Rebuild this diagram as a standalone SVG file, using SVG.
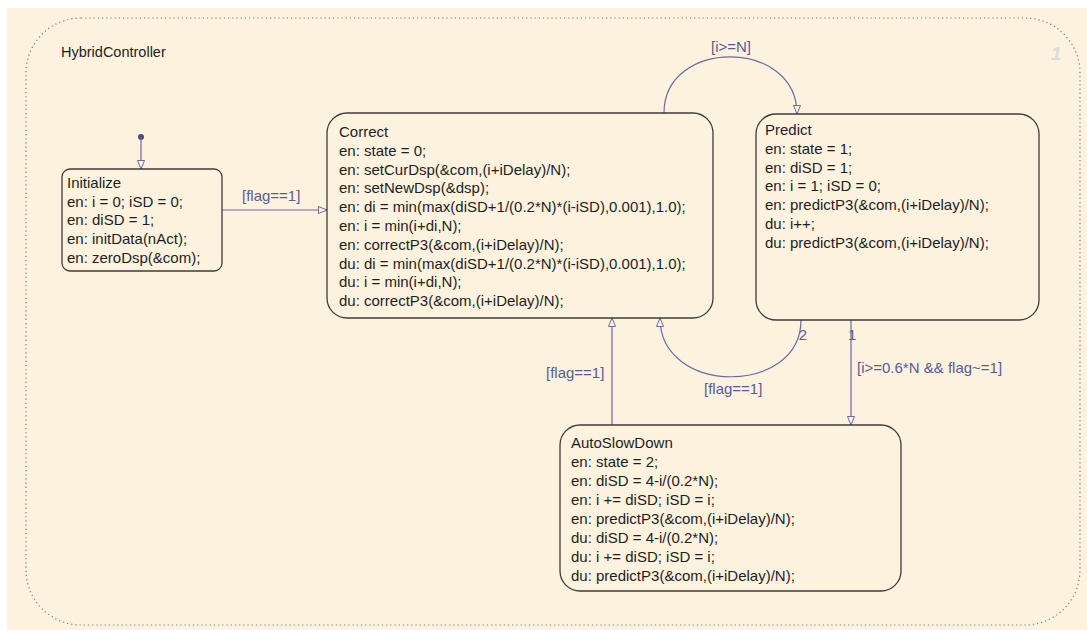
<svg xmlns="http://www.w3.org/2000/svg" width="1087" height="630" viewBox="0 0 1087 630">
<defs>
<style>
.st{fill:none;stroke:#3c3c3c;stroke-width:1.3}
.tx{font-family:"Liberation Sans",Arial,sans-serif;font-size:15px;fill:#1e1e1e}
.lb{font-family:"Liberation Sans",Arial,sans-serif;font-size:15px;fill:#5a5a96}
.tr{fill:none;stroke:#6a6aa4;stroke-width:1.2}
</style>
<marker id="ah" markerUnits="userSpaceOnUse" markerWidth="10" markerHeight="9" refX="9" refY="4" orient="auto">
<path d="M0.5,0.5 L9,4 L0.5,7.5 Z" fill="#fcf2de" stroke="#6a6aa4" stroke-width="1"/>
</marker>
</defs>
<rect x="0" y="0" width="1087" height="630" fill="#ffffff"/>
<rect x="7" y="8" width="1080" height="622" fill="#fcf2de"/>
<rect x="26" y="18" width="1054" height="607" rx="55" ry="55" fill="none" stroke="#7a7a7a" stroke-width="1.2" stroke-dasharray="1.2 3"/>
<text x="61" y="57" class="tx" style="font-size:14.5px">HybridController</text>
<text x="1051" y="60" style="font-family:'Liberation Sans',Arial,sans-serif;font-size:19px;font-style:italic;font-weight:bold;fill:#dcdcdc">1</text>

<g id="connectors">
<circle cx="141" cy="137" r="3" fill="#4a4a80"/>
<line x1="141" y1="137" x2="141" y2="169" class="tr" marker-end="url(#ah)"/>
<line x1="222" y1="210" x2="327" y2="210" class="tr" marker-end="url(#ah)"/>
<text x="242" y="201" class="lb">[flag==1]</text>
<path d="M664,113 C664,38 797,38 797,114" class="tr" marker-end="url(#ah)"/>
<text x="711" y="52" class="lb">[i&gt;=N]</text>
<path d="M801,320 C801,396 660,396 660,318" class="tr" marker-end="url(#ah)"/>
<text x="803" y="340" class="lb" text-anchor="middle">2</text>
<text x="704" y="394" class="lb">[flag==1]</text>
<line x1="851" y1="320" x2="851" y2="425" class="tr" marker-end="url(#ah)"/>
<text x="848" y="340" class="lb">1</text>
<text x="857" y="373" class="lb">[i&gt;=0.6*N &amp;&amp; flag~=1]</text>
<line x1="612" y1="425" x2="612" y2="318" class="tr" marker-end="url(#ah)"/>
<text x="546" y="378" class="lb">[flag==1]</text>
</g>

<g id="Initialize">
<rect x="62" y="169" width="160" height="102" rx="8" class="st"/>
<text class="tx" x="67" y="188">Initialize
<tspan x="67" dy="18.7">en: i = 0; iSD = 0;</tspan>
<tspan x="67" dy="18.7">en: diSD = 1;</tspan>
<tspan x="67" dy="18.7">en: initData(nAct);</tspan>
<tspan x="67" dy="18.7">en: zeroDsp(&amp;com);</tspan>
</text>
</g>

<g id="Correct">
<rect x="327" y="113" width="386" height="205" rx="20" class="st"/>
<text class="tx" x="339" y="137">Correct
<tspan x="339" dy="18.8">en: state = 0;</tspan>
<tspan x="339" dy="18.8">en: setCurDsp(&amp;com,(i+iDelay)/N);</tspan>
<tspan x="339" dy="18.8">en: setNewDsp(&amp;dsp);</tspan>
<tspan x="339" dy="18.8">en: di = min(max(diSD+1/(0.2*N)*(i-iSD),0.001),1.0);</tspan>
<tspan x="339" dy="18.8">en: i = min(i+di,N);</tspan>
<tspan x="339" dy="18.8">en: correctP3(&amp;com,(i+iDelay)/N);</tspan>
<tspan x="339" dy="18.8">du: di = min(max(diSD+1/(0.2*N)*(i-iSD),0.001),1.0);</tspan>
<tspan x="339" dy="18.8">du: i = min(i+di,N);</tspan>
<tspan x="339" dy="18.8">du: correctP3(&amp;com,(i+iDelay)/N);</tspan>
</text>
</g>

<g id="Predict">
<rect x="756" y="114" width="283" height="206" rx="20" class="st"/>
<text class="tx" x="765" y="135">Predict
<tspan x="765" dy="18.8">en: state = 1;</tspan>
<tspan x="765" dy="18.8">en: diSD = 1;</tspan>
<tspan x="765" dy="18.8">en: i = 1; iSD = 0;</tspan>
<tspan x="765" dy="18.8">en: predictP3(&amp;com,(i+iDelay)/N);</tspan>
<tspan x="765" dy="18.8">du: i++;</tspan>
<tspan x="765" dy="18.8">du: predictP3(&amp;com,(i+iDelay)/N);</tspan>
</text>
</g>

<g id="AutoSlowDown">
<rect x="560" y="425" width="341" height="166" rx="20" class="st"/>
<text class="tx" x="571" y="448">AutoSlowDown
<tspan x="571" dy="19">en: state = 2;</tspan>
<tspan x="571" dy="19">en: diSD = 4-i/(0.2*N);</tspan>
<tspan x="571" dy="19">en: i += diSD; iSD = i;</tspan>
<tspan x="571" dy="19">en: predictP3(&amp;com,(i+iDelay)/N);</tspan>
<tspan x="571" dy="19">du: diSD = 4-i/(0.2*N);</tspan>
<tspan x="571" dy="19">du: i += diSD; iSD = i;</tspan>
<tspan x="571" dy="19">du: predictP3(&amp;com,(i+iDelay)/N);</tspan>
</text>
</g>
</svg>
